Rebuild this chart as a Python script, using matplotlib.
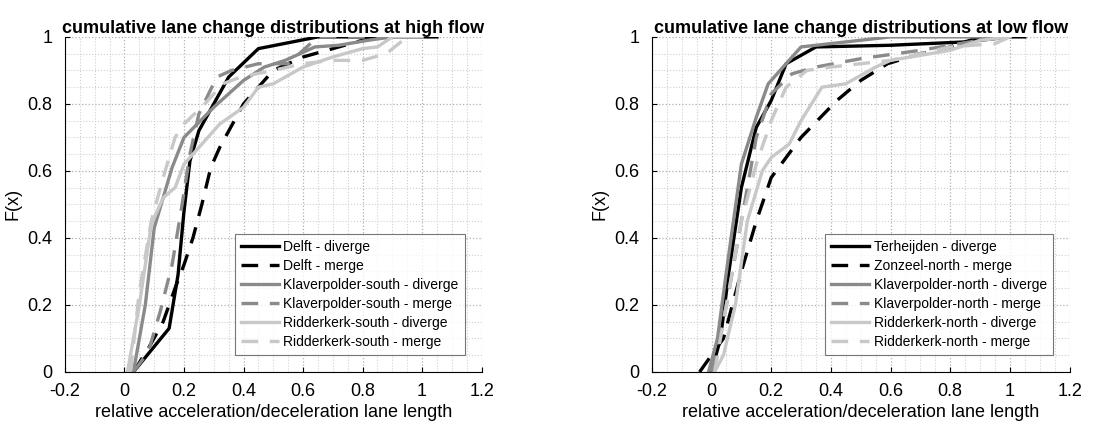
import numpy as np
import matplotlib
matplotlib.use("Agg")
import matplotlib.pyplot as plt
from matplotlib.ticker import MultipleLocator

plt.rcParams['font.family'] = ['Liberation Sans', 'DejaVu Sans']

# high flow data (x = relative lane length, y = F(x))
delft_div_x = [0.03, 0.15, 0.18, 0.20, 0.22, 0.25, 0.35, 0.45, 0.65, 1.05]
delft_div_y = [0.00, 0.13, 0.29, 0.48, 0.63, 0.72, 0.88, 0.965, 1.00, 1.00]
delft_mer_x = [0.03, 0.08, 0.13, 0.17, 0.20, 0.23, 0.26, 0.29, 0.32, 0.40, 0.50, 0.60, 0.70, 0.80, 0.90]
delft_mer_y = [0.00, 0.07, 0.15, 0.25, 0.32, 0.40, 0.50, 0.61, 0.67, 0.80, 0.90, 0.94, 0.965, 0.99, 1.00]
klav_s_div_x = [0.03, 0.07, 0.10, 0.16, 0.20, 0.30, 0.40, 0.47, 0.54, 0.64, 0.72, 0.82, 0.90]
klav_s_div_y = [0.00, 0.20, 0.43, 0.61, 0.70, 0.79, 0.87, 0.91, 0.93, 0.97, 0.975, 0.99, 1.00]
klav_s_mer_x = [0.03, 0.08, 0.12, 0.16, 0.19, 0.22, 0.25, 0.31, 0.36, 0.45, 0.55, 0.65, 0.90]
klav_s_mer_y = [0.00, 0.06, 0.18, 0.32, 0.48, 0.65, 0.77, 0.88, 0.90, 0.92, 0.92, 1.00, 1.00]
ridd_s_div_x = [0.01, 0.05, 0.09, 0.13, 0.15, 0.17, 0.20, 0.25, 0.32, 0.40, 0.45, 0.50, 0.60, 0.70, 0.80, 0.85, 0.90, 1.00]
ridd_s_div_y = [0.00, 0.20, 0.44, 0.52, 0.535, 0.55, 0.62, 0.67, 0.74, 0.79, 0.85, 0.86, 0.91, 0.94, 0.965, 0.97, 1.00, 1.00]
ridd_s_mer_x = [0.02, 0.05, 0.09, 0.13, 0.17, 0.20, 0.27, 0.33, 0.39, 0.50, 0.60, 0.70, 0.80, 0.88, 0.95]
ridd_s_mer_y = [0.00, 0.24, 0.45, 0.58, 0.70, 0.74, 0.80, 0.86, 0.88, 0.90, 0.92, 0.93, 0.93, 0.95, 1.00]

# low flow data
terh_div_x = [0.00, 0.03, 0.06, 0.10, 0.15, 0.20, 0.25, 0.35, 0.60, 0.85, 1.00, 1.05]
terh_div_y = [0.00, 0.10, 0.31, 0.55, 0.73, 0.81, 0.92, 0.97, 0.975, 0.985, 1.00, 1.00]
zonz_mer_x = [-0.04, 0.04, 0.10, 0.15, 0.20, 0.30, 0.42, 0.50, 0.59, 0.70, 0.80, 0.90]
zonz_mer_y = [0.00, 0.10, 0.30, 0.45, 0.58, 0.70, 0.81, 0.87, 0.92, 0.95, 0.97, 1.00]
klav_n_div_x = [-0.01, 0.02, 0.05, 0.10, 0.15, 0.19, 0.25, 0.30, 0.40, 0.60, 1.00]
klav_n_div_y = [0.00, 0.10, 0.30, 0.62, 0.76, 0.86, 0.92, 0.97, 0.98, 1.00, 1.00]
klav_n_mer_x = [0.00, 0.05, 0.10, 0.15, 0.20, 0.27, 0.35, 0.50, 0.70, 0.90, 1.00]
klav_n_mer_y = [0.00, 0.20, 0.45, 0.70, 0.83, 0.89, 0.91, 0.935, 0.96, 0.99, 1.00]
ridd_n_div_x = [0.01, 0.04, 0.08, 0.12, 0.17, 0.20, 0.26, 0.30, 0.37, 0.45, 0.55, 0.60, 0.80, 0.90, 1.00]
ridd_n_div_y = [0.00, 0.05, 0.20, 0.45, 0.60, 0.64, 0.68, 0.75, 0.85, 0.86, 0.91, 0.93, 0.96, 0.99, 1.00]
ridd_n_mer_x = [0.01, 0.05, 0.10, 0.15, 0.20, 0.25, 0.32, 0.40, 0.60, 0.80, 0.95, 1.00]
ridd_n_mer_y = [0.00, 0.20, 0.45, 0.62, 0.75, 0.85, 0.90, 0.91, 0.93, 0.97, 0.98, 1.00]

high_labels = ["Delft - diverge", "Delft - merge", "Klaverpolder-south - diverge",
               "Klaverpolder-south - merge", "Ridderkerk-south - diverge", "Ridderkerk-south - merge"]
low_labels = ["Terheijden - diverge", "Zonzeel-north - merge", "Klaverpolder-north - diverge",
              "Klaverpolder-north - merge", "Ridderkerk-north - diverge", "Ridderkerk-north - merge"]

high = [(delft_div_x, delft_div_y), (delft_mer_x, delft_mer_y), (klav_s_div_x, klav_s_div_y),
        (klav_s_mer_x, klav_s_mer_y), (ridd_s_div_x, ridd_s_div_y), (ridd_s_mer_x, ridd_s_mer_y)]
low = [(terh_div_x, terh_div_y), (zonz_mer_x, zonz_mer_y), (klav_n_div_x, klav_n_div_y),
       (klav_n_mer_x, klav_n_mer_y), (ridd_n_div_x, ridd_n_div_y), (ridd_n_mer_x, ridd_n_mer_y)]

colors = ["black", "black", "#8a8a8a", "#8a8a8a", "#c8c8c8", "#c8c8c8"]
styles = ["-", (0, (5, 3.5)), "-", (0, (5, 3.5)), "-", (0, (5, 3.5))]

fig = plt.figure(figsize=(11.2, 4.29), dpi=100)
ax1 = fig.add_axes([0.058, 0.133, 0.372, 0.781])
ax2 = fig.add_axes([0.582, 0.133, 0.373, 0.781])

def draw(ax, data, labels, title):
    for (x, y), c, s, l in zip(data, colors, styles, labels):
        ax.plot(x, y, color=c, linestyle=s, linewidth=2.4, label=l)
    ax.set_xlim(-0.2, 1.2)
    ax.set_ylim(0, 1)
    ax.xaxis.set_minor_locator(MultipleLocator(0.05))
    ax.yaxis.set_minor_locator(MultipleLocator(0.05))
    ax.set_xticks(np.arange(-0.2, 1.21, 0.2))
    ax.set_xticklabels(["-0.2", "0", "0.2", "0.4", "0.6", "0.8", "1", "1.2"])
    ax.set_yticks(np.arange(0, 1.01, 0.2))
    ax.set_yticklabels(["0", "0.2", "0.4", "0.6", "0.8", "1"])
    ax.grid(which="major", color="#b0b0b0", linestyle=":", linewidth=0.9)
    ax.grid(which="minor", color="#d0d0d0", linestyle=":", linewidth=0.8)
    ax.spines["top"].set_visible(False)
    ax.spines["right"].set_visible(False)
    ax.tick_params(which="both", direction="in", labelsize=13)
    ax.tick_params(axis="x", pad=8)
    ax.tick_params(axis="y", pad=9)
    ax.tick_params(which="minor", length=0)
    ax.set_xlabel("relative acceleration/deceleration lane length", fontsize=13, labelpad=3)
    ax.set_ylabel("F(x)", fontsize=13, labelpad=4)
    ax.set_title(title, fontsize=13, fontweight="bold", pad=3)
    leg = ax.legend(loc="lower right", fontsize=10, frameon=True, fancybox=False,
                    handlelength=2.7, handletextpad=0.35, borderaxespad=1.2,
                    labelspacing=0.36, borderpad=0.45)
    leg.get_frame().set_edgecolor("#555555")
    leg.get_frame().set_linewidth(0.8)

draw(ax1, high, high_labels, "cumulative lane change distributions at high flow")
draw(ax2, low, low_labels, "cumulative lane change distributions at low flow")

fig.savefig("out.png", dpi=100)
